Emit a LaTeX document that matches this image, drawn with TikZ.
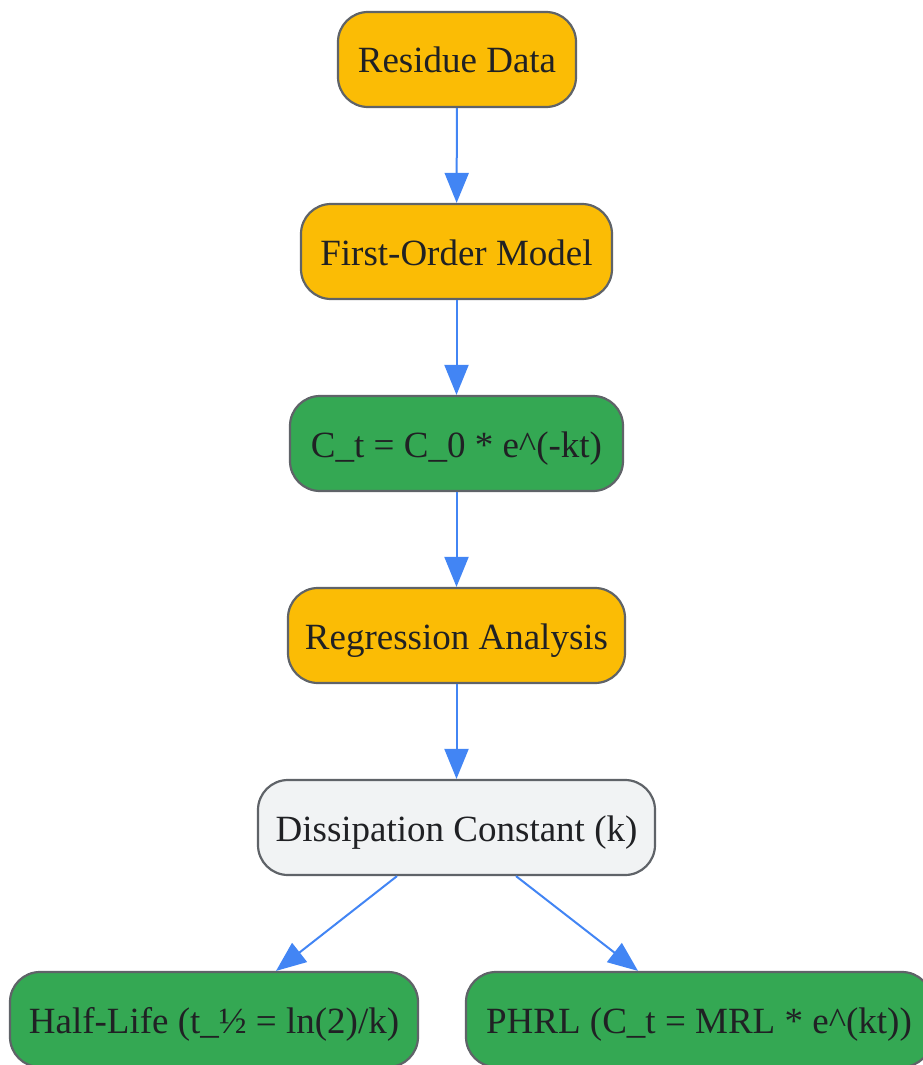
\documentclass[tikz,border=0pt]{standalone}
\usepackage{fontspec}
\setmainfont{Liberation Serif}
\usetikzlibrary{arrows.meta}
\definecolor{gyellow}{HTML}{FBBC05}
\definecolor{ggreen}{HTML}{34A853}
\definecolor{ggray}{HTML}{F1F3F4}
\definecolor{gborder}{HTML}{5F6368}
\definecolor{gblue}{HTML}{4285F4}
\definecolor{gtext}{HTML}{202124}
\tikzset{
  box/.style={draw=gborder, line width=2.2pt, rounded corners=30pt, minimum height=95pt, inner sep=0pt, text height=35pt, text depth=8pt, text=gtext, font=\fontsize{37}{40}\selectfont},
  ybox/.style={box, fill=gyellow},
  gbox/.style={box, fill=ggreen},
  wbox/.style={box, fill=ggray},
  conn/.style={draw=gblue, line width=2pt, -{Triangle[length=30pt,width=24pt]}}
}
\begin{document}
\begin{tikzpicture}[x=1pt,y=-1pt]
\useasboundingbox (0,0) rectangle (923,1065);
\node[ybox, minimum width=238pt] (res) at (457,59.5) {Residue Data};
\node[ybox, minimum width=311pt] (fom) at (456.5,251.5) {First-Order Model};
\node[gbox, minimum width=333pt] (eq) at (456.5,443.5) {C\_t = C\_0 * e\textasciicircum(-kt)};
\node[ybox, minimum width=337pt] (reg) at (456.5,635.5) {Regression Analysis};
\node[wbox, minimum width=397pt] (dis) at (456.5,827.5) {Dissipation Constant (k)};
\node[gbox, minimum width=408pt] (half) at (214,1019.5) {Half-Life (t\_½ = ln(2)/k)};
\node[gbox, minimum width=466pt] (phrl) at (699,1019.5) {PHRL (C\_t = MRL * e\textasciicircum(kt))};
\draw[conn] (res) -- (fom);
\draw[conn] (fom) -- (eq);
\draw[conn] (eq) -- (reg);
\draw[conn] (reg) -- (dis);
\draw[conn] ([xshift=-59.5pt]dis.south) -- ([xshift=62pt]half.north);
\draw[conn] ([xshift=59.5pt]dis.south) -- ([xshift=-61pt]phrl.north);
\end{tikzpicture}
\end{document}
